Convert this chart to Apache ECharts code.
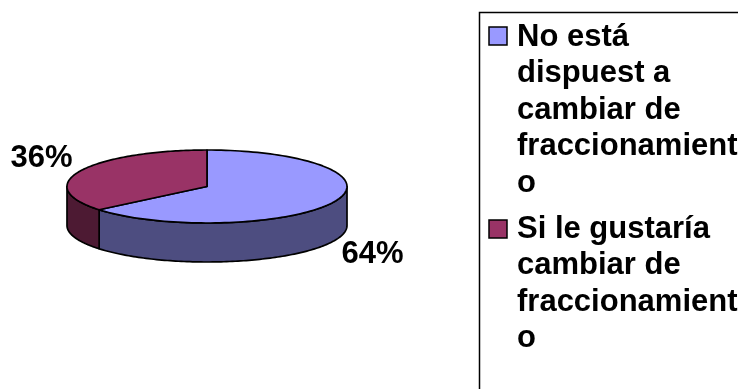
<!DOCTYPE html>
<html>
<head>
<meta charset="utf-8">
<script src="https://cdn.jsdelivr.net/npm/echarts@6/dist/echarts.min.js"></script>
<style>
html,body{margin:0;padding:0;background:#fff;}
#chart{width:738px;height:389px;}
</style>
</head>
<body>
<div id="chart"></div>
<script>
// ---- data ----
const categories = [
  "No está\ndispuest a\ncambiar de\nfraccionamient\no",
  "Si le gustaría\ncambiar de\nfraccionamient\no"
];
const values = [64, 36];
const topColors = ['#9999FF', '#993366'];
const sideColors = ['#4D4D80', '#4D1A33'];

// ---- layout ----
const CX = 207, CY = 186.5, RX = 140, RY = 36.5, DEPTH = 39;
const FONT = 'bold 31px "Liberation Sans", Arial, sans-serif';

const total = values.reduce((a, b) => a + b, 0);
const starts = [];
let acc = 0;
values.forEach(v => { starts.push(acc); acc += v; });

function pt(a, dy) {
  return [CX + RX * Math.sin(a), CY - RY * Math.cos(a) + (dy || 0)];
}

function renderItem(params, api) {
  const i = params.dataIndex;
  const v = api.value(0);
  const a0 = starts[i] / total * 2 * Math.PI;
  const a1 = (starts[i] + v) / total * 2 * Math.PI;
  const N = 120;
  const children = [];
  const s0 = Math.max(a0, Math.PI / 2), s1 = Math.min(a1, 1.5 * Math.PI);
  if (s1 > s0) {
    const pts = [];
    for (let k = 0; k <= N; k++) pts.push(pt(s0 + (s1 - s0) * k / N, 0));
    for (let k = N; k >= 0; k--) pts.push(pt(s0 + (s1 - s0) * k / N, DEPTH));
    children.push({
      type: 'polygon', shape: { points: pts },
      style: { fill: sideColors[i], stroke: '#000', lineWidth: 1.7, lineJoin: 'round' }
    });
  }
  const tp = [[CX, CY]];
  for (let k = 0; k <= N; k++) tp.push(pt(a0 + (a1 - a0) * k / N, 0));
  children.push({
    type: 'polygon', shape: { points: tp },
    style: { fill: topColors[i], stroke: '#000', lineWidth: 1.7, lineJoin: 'round' }
  });
  const mid = (a0 + a1) / 2;
  const lx = CX + 183 * Math.sin(mid);
  const ly = CY - 67 * Math.cos(mid) + (Math.cos(mid) < 0 ? DEPTH : 0);
  children.push({
    type: 'text',
    style: { text: v + '%', x: lx, y: ly, align: 'center', verticalAlign: 'middle', font: FONT, fill: '#000' }
  });
  return { type: 'group', children: children };
}

const legendTextTops = [18.75, 210.75];
const legendMarkTops = [27, 220];
const graphic = [{
  type: 'rect', z: 0,
  shape: { x: 479.5, y: 12.5, width: 400, height: 500 },
  style: { fill: '#fff', stroke: '#000', lineWidth: 1.5 }
}];
categories.forEach((c, i) => {
  graphic.push({
    type: 'rect', z: 1,
    shape: { x: 489, y: legendMarkTops[i], width: 18, height: 18 },
    style: { fill: topColors[i], stroke: '#000', lineWidth: 1.5 }
  });
  graphic.push({
    type: 'text', z: 1,
    style: { text: c, x: 517, y: legendTextTops[i], font: FONT, lineHeight: 36.5, verticalAlign: 'top', fill: '#000' }
  });
});

const chart = echarts.init(document.getElementById('chart'), null, { renderer: 'canvas' });
chart.setOption({
  animation: false,
  backgroundColor: '#fff',
  graphic: graphic,
  series: [{
    type: 'custom',
    coordinateSystem: 'none',
    renderItem: renderItem,
    data: values.map((v, i) => ({ value: v, name: categories[i] }))
  }]
});
</script>
</body>
</html>
